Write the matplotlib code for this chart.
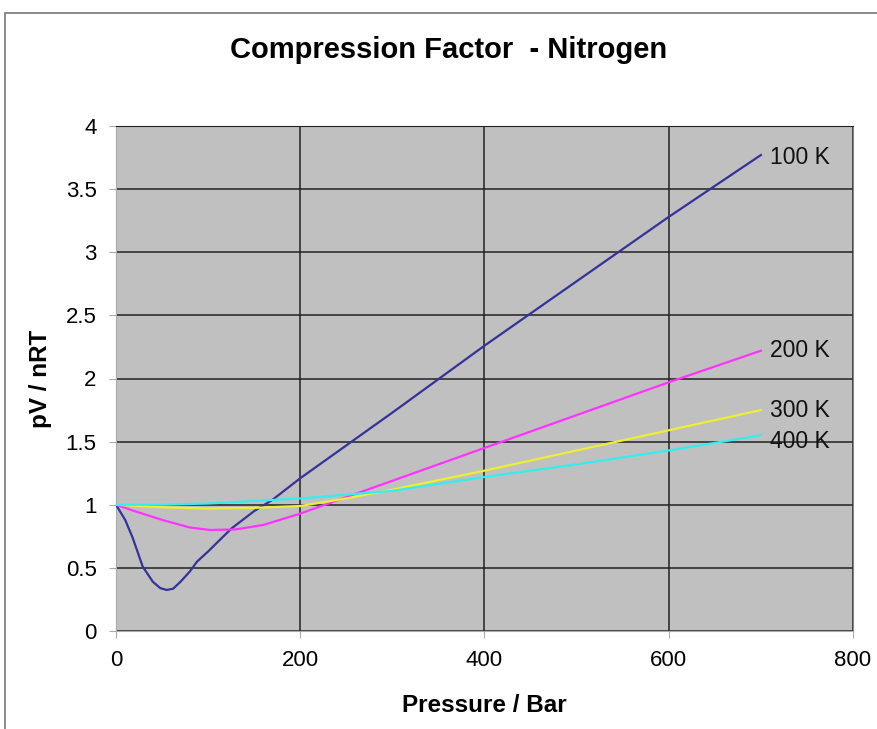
import matplotlib.pyplot as plt
from matplotlib.patches import Rectangle

plt.rcParams['font.family'] = ['Liberation Sans', 'DejaVu Sans']

p100 = [0, 10, 18, 29, 40, 48, 55, 62, 70, 80, 88, 100, 125, 150, 170, 200, 300, 400, 500, 600, 700]
z100 = [1.0, 0.88, 0.74, 0.51, 0.39, 0.34, 0.325, 0.335, 0.39, 0.47, 0.55, 0.63, 0.81, 0.95, 1.04, 1.21, 1.73, 2.26, 2.77, 3.28, 3.77]

p200 = [0, 20, 50, 80, 102, 130, 160, 200, 250, 300, 400, 500, 600, 700]
z200 = [1.0, 0.95, 0.88, 0.82, 0.80, 0.805, 0.84, 0.93, 1.06, 1.19, 1.45, 1.71, 1.97, 2.22]

p300 = [0, 50, 100, 150, 200, 250, 300, 400, 500, 600, 700]
z300 = [1.0, 0.98, 0.97, 0.975, 0.99, 1.05, 1.12, 1.27, 1.43, 1.59, 1.75]

p400 = [0, 50, 100, 200, 250, 300, 400, 500, 600, 700]
z400 = [1.0, 1.0, 1.01, 1.05, 1.08, 1.11, 1.22, 1.32, 1.43, 1.55]

labels = ['100 K', '200 K', '300 K', '400 K']
label_y = [3.75, 2.22, 1.75, 1.50]
colors = ['#333399', '#FF33FF', '#EEEE33', '#33EEEE']

xticks = [0, 200, 400, 600, 800]
yticks = [0, 0.5, 1, 1.5, 2, 2.5, 3, 3.5, 4]
ytick_labels = ['0', '0.5', '1', '1.5', '2', '2.5', '3', '3.5', '4']

fig = plt.figure(figsize=(8.78, 7.29), dpi=100)
fig.patches.append(Rectangle((5 / 878, -0.2), 1.2, 1.2 - 13 / 729,
                             transform=fig.transFigure, fill=False,
                             edgecolor='#777777', linewidth=1.2))
ax = fig.add_axes([116 / 878, 1 - 631 / 729, (853 - 116) / 878, (631 - 126) / 729])
ax.set_facecolor('#C0C0C0')

series = [(p100, z100), (p200, z200), (p300, z300), (p400, z400)]
for (p, z), c in zip(series, colors):
    ax.plot(p, z, color=c, linewidth=1.6, zorder=3)
for lab, y in zip(labels, label_y):
    ax.text(710, y, lab, fontsize=16.5, va='center', ha='left', color='#111111', zorder=4)

ax.set_xlim(0, 800)
ax.set_ylim(0, 4)
ax.set_xticks(xticks)
ax.set_yticks(yticks)
ax.set_yticklabels(ytick_labels)
ax.grid(True, color='#222222', linewidth=1.1)
ax.set_axisbelow(True)
ax.tick_params(labelsize=16, length=5, color='#AAAAAA', pad=9)
for s in ['left', 'bottom']:
    ax.spines[s].set_color('#AAAAAA')
ax.spines['right'].set_color('#888888')
ax.spines['top'].set_color('#222222')

ax.set_xlabel('Pressure / Bar', fontsize=17.5, fontweight='bold', labelpad=16)
ax.set_ylabel('pV / nRT', fontsize=17.5, fontweight='bold', labelpad=10)
fig.text(449 / 878, 1 - 50 / 729, 'Compression Factor  - Nitrogen',
         fontsize=21, fontweight='bold', ha='center', va='center')

fig.savefig('out.png', dpi=100)
